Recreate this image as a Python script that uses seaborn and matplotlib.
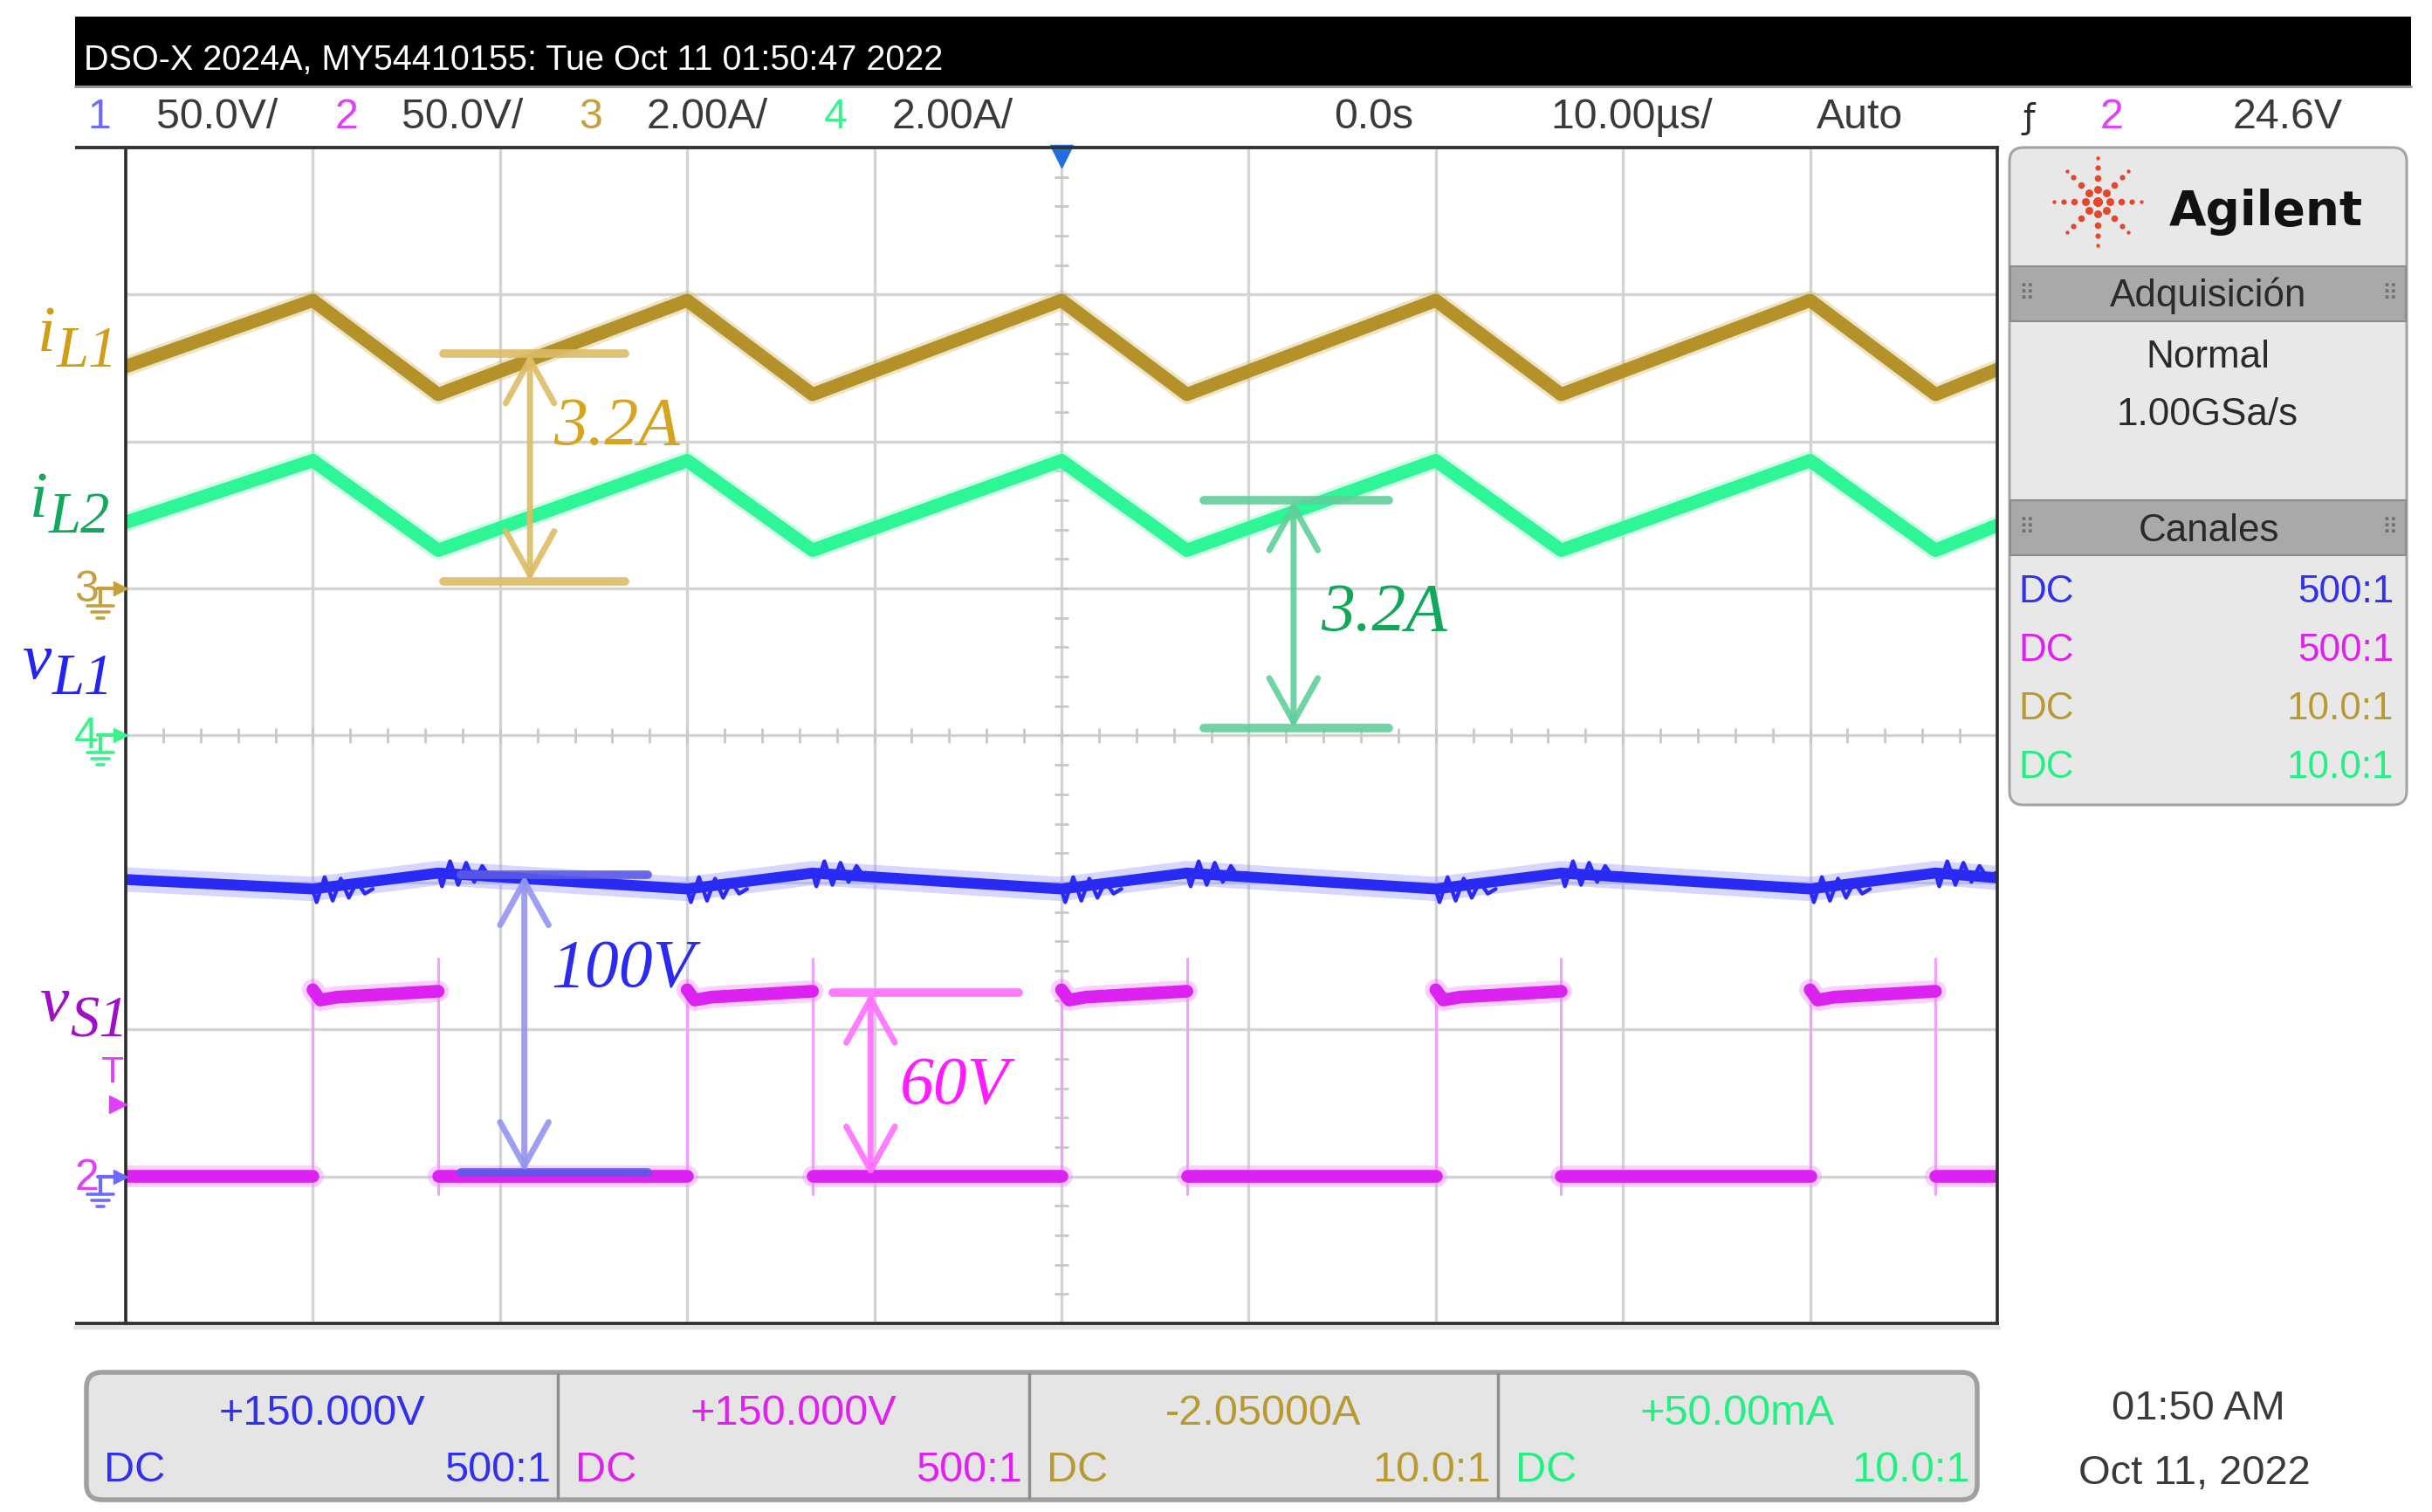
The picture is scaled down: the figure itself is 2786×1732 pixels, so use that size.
import matplotlib
matplotlib.use("Agg")            # file output only
import matplotlib.pyplot as plt
from matplotlib import font_manager
from matplotlib.patches import FancyBboxPatch, Rectangle
import numpy as np
import pandas as pd
import seaborn as sns

W, H, DPI = 2786, 1732, 100

# ---------------- scope settings (as shown on screen) ----------------
ch_names = ["vL1", "vS1", "iL1", "iL2"]
ch_label = ["1", "2", "3", "4"]
ch_setting = ["50.0V/", "50.0V/", "2.00A/", "2.00A/"]
ch_scale = [50.0, 50.0, 2.0, 2.0]            # units per division
ch_ground = [-3.0, -3.0, 1.0, 0.0]           # ground marker, divisions from centre
ch_offset = ["+150.000V", "+150.000V", "-2.05000A", "+50.00mA"]
ch_probe = ["500:1", "500:1", "10.0:1", "10.0:1"]
trig_level = 24.6                            # V on channel 2
time_per_div = 10.0                          # us/div
header_text = "DSO-X 2024A, MY54410155: Tue Oct 11 01:50:47 2022"

# ---------------- waveforms ----------------
t_rise = [-40.0, -20.0, 0.0, 20.0, 40.0]     # vS1 goes high / currents peak (us)
t_fall = [-33.3, -13.3, 6.7, 26.7, 46.7]     # vS1 goes low / currents valley (us)

wave_t = [-50.0, -40.0, -33.3, -20.0, -13.3, 0.0, 6.7, 20.0, 26.7, 40.0, 46.7, 50.0]
iL1_A = [3.02, 3.92, 2.64, 3.92, 2.64, 3.92, 2.64, 3.92, 2.64, 3.92, 2.64, 2.98]
iL2_A = [2.90, 3.74, 2.52, 3.74, 2.52, 3.74, 2.52, 3.74, 2.52, 3.74, 2.52, 2.86]
vL1_V = [101.0, 97.8, 103.2, 97.8, 103.2, 97.8, 103.2, 97.8, 103.2, 97.8, 103.2, 101.6]

# ringing on vL1 after every switching edge
ring_dt = [0.0, 0.2, 0.63, 1.06, 1.49, 1.92, 2.35, 2.78, 3.2]
ring_dV = [0.0, -4.5, 4.0, -4.0, 3.5, -3.0, 2.4, -1.6, 0.0]

vS1_low_V = 0.3
vS1_top_dt = [0.0, 0.4, 1.3]                 # us after the rising edge
vS1_top_V = [63.5, 60.0, 61.0]
vS1_top_end_V = 63.0
vS1_rise_edge_V = [0.0, 67.0]
vS1_fall_edge_V = [74.0, -6.0]

# measurement marks drawn on the screenshot
meas_ch = ["iL1", "iL2", "vL1", "vS1"]
meas_text = ["3.2A", "3.2A", "100V", "60V"]
meas_lo = [0.1, 0.1, 1.5, 0.0]
meas_hi = [3.2, 3.2, 102.5, 62.5]
meas_t = [-28.4, 12.4, -28.7, -10.2]
meas_bar_t0 = [-33.0, 7.6, -32.1, -12.2]
meas_bar_t1 = [-23.3, 17.5, -22.1, -2.3]

# ---------------- colours ----------------
trace_col = {"vL1": "#2a2af5", "vS1": "#dc22f0", "iL1": "#b5912a", "iL2": "#2ef595"}
halo_col = {"vL1": "#8a8aff", "vS1": "#f08cff", "iL1": "#d6bd72", "iL2": "#8ef8c4"}
num_col = {"vL1": "#6b6bff", "vS1": "#e040f8", "iL1": "#c4a040", "iL2": "#3cf08c"}
panel_col = {"vL1": "#3030ee", "vS1": "#e020f0", "iL1": "#b89a30", "iL2": "#22f082"}
label_col = {"vL1": "#2424f0", "vS1": "#9d10c4", "iL1": "#cf9d16", "iL2": "#13a85c"}
meas_bar_col = {"vL1": "#5a5ae6", "vS1": "#ff6cff", "iL1": "#dcbc66", "iL2": "#5fcf9a"}
meas_arrow_col = {"vL1": "#9494f2", "vS1": "#ff70ff", "iL1": "#dcbc66", "iL2": "#5fcf9a"}
meas_text_col = {"vL1": "#2b2bef", "vS1": "#ff1cff", "iL1": "#d6a41e", "iL2": "#12a85a"}

sns.set_theme(style="white")
plt.rcParams["font.family"] = ["DejaVu Sans"]


def have(name):
    try:
        font_manager.findfont(font_manager.FontProperties(family=name), fallback_to_default=False)
        return True
    except ValueError:
        return False


NARROW = next(f for f in ["Liberation Sans Narrow", "Arial Narrow", "Liberation Sans", "DejaVu Sans"] if have(f))
SANS = "Liberation Sans" if have("Liberation Sans") else "DejaVu Sans"
SERIF = "Liberation Serif" if have("Liberation Serif") else "DejaVu Serif"


def to_div(name, values):
    k = ch_names.index(name)
    return np.asarray(values, dtype=float) / ch_scale[k] + ch_ground[k]


# ---------------- build the traces ----------------
def ramp_frame(name, values):
    return pd.DataFrame({"t": wave_t, "div": to_div(name, values), "seg": 0})


# ringing bursts drawn as thin spiky lines over the thick vL1 trace
ring_rows = []
for n, e in enumerate(sorted(t_rise + t_fall)):
    base = vL1_V[wave_t.index(e)]
    for dt, dv in zip(ring_dt, ring_dV):
        if e + dt < 50:
            ring_rows.append((e + dt, base + dv, n))
ring_df = pd.DataFrame(ring_rows, columns=["t", "v", "seg"])
ring_df["div"] = to_div("vL1", ring_df["v"])

rows, edge_rows = [], []
low_starts = [-50.0] + t_fall
low_ends = t_rise + [50.0]
for s, (a, b) in enumerate(zip(low_starts, low_ends)):
    rows += [(a, vS1_low_V, s), (b, vS1_low_V, s)]
for i, (tr, tf) in enumerate(zip(t_rise, t_fall)):
    s = 100 + i
    for dt, v in zip(vS1_top_dt, vS1_top_V):
        rows.append((tr + dt, v, s))
    rows.append((tf, vS1_top_end_V, s))
    edge_rows += [(tr, vS1_rise_edge_V[0], 2 * i), (tr, vS1_rise_edge_V[1], 2 * i),
                  (tf, vS1_fall_edge_V[0], 2 * i + 1), (tf, vS1_fall_edge_V[1], 2 * i + 1)]
vS1_df = pd.DataFrame(rows, columns=["t", "v", "seg"])
vS1_df["div"] = to_div("vS1", vS1_df["v"])
vS1_edge = pd.DataFrame(edge_rows, columns=["t", "v", "seg"])
vS1_edge["div"] = to_div("vS1", vS1_edge["v"])

# ---------------- figure ----------------
X0, X1, Y0, Y1 = 144, 2288, 169, 1516         # screen area in pixels
fig = plt.figure(figsize=(W / DPI, H / DPI), dpi=DPI)
fig.patch.set_facecolor("white")
ax = fig.add_axes([X0 / W, 1 - Y1 / H, (X1 - X0) / W, (Y1 - Y0) / H])
ov = fig.add_axes([0, 0, 1, 1], zorder=3)
ov.set_xlim(0, W); ov.set_ylim(H, 0); ov.axis("off")
ov.patch.set_visible(False)
renderer = fig.canvas.get_renderer()

ax.set_facecolor("white")
ax.set_xlim(-50, 50); ax.set_ylim(-4, 4)
ax.set_xticks(np.arange(-50, 51, time_per_div)); ax.set_yticks(np.arange(-4, 5, 1))
ax.tick_params(length=0, labelbottom=False, labelleft=False)
ax.grid(True, color="#d4d4d4", lw=2.4)
ax.set_axisbelow(True)
for side in ["top", "bottom"]:
    ax.spines[side].set_visible(False)
for side in ["left", "right"]:
    ax.spines[side].set_color("#2c2c2c"); ax.spines[side].set_linewidth(2.6)
# minor ticks on the centre cross
ax.vlines(np.arange(-50, 51, 2), -0.05, 0.05, color="#c8c8c8", lw=2, zorder=1)
ax.hlines(np.arange(-4, 4.01, 0.2), -0.35, 0.35, color="#c8c8c8", lw=2, zorder=1)

for name, vals in [("iL1", iL1_A), ("iL2", iL2_A)]:
    df = ramp_frame(name, vals)
    sns.lineplot(data=df, x="t", y="div", color=halo_col[name], linewidth=16, alpha=0.4, sort=False,
                 estimator=None, ax=ax, legend=False)
    sns.lineplot(data=df, x="t", y="div", color=trace_col[name], linewidth=11, sort=False,
                 estimator=None, ax=ax, legend=False)

vL1_df = ramp_frame("vL1", vL1_V)
sns.lineplot(data=vL1_df, x="t", y="div", color=halo_col["vL1"], linewidth=20, alpha=0.35, sort=False,
             estimator=None, ax=ax, legend=False)
sns.lineplot(data=vL1_df, x="t", y="div", color=trace_col["vL1"], linewidth=9, sort=False,
             estimator=None, ax=ax, legend=False)
sns.lineplot(data=ring_df, x="t", y="div", units="seg", color=trace_col["vL1"], linewidth=3.2, sort=False,
             estimator=None, ax=ax, legend=False)

sns.lineplot(data=vS1_edge, x="t", y="div", units="seg", color="#f2a0ff", linewidth=2.2, sort=False,
             estimator=None, ax=ax, legend=False)
sns.lineplot(data=vS1_df, x="t", y="div", units="seg", color=halo_col["vS1"], linewidth=18, alpha=0.4,
             sort=False, estimator=None, ax=ax, legend=False)
sns.lineplot(data=vS1_df, x="t", y="div", units="seg", color=trace_col["vS1"], linewidth=10.5, sort=False,
             estimator=None, ax=ax, legend=False)
ax.set_xlabel(""); ax.set_ylabel("")

# trigger position marker
ax.plot([0], [3.94], marker="v", ms=19, color="#1f6fe0", clip_on=False, zorder=8)

# measurement bars and arrows
for ch, lo, hi, tm, b0, b1 in zip(meas_ch, meas_lo, meas_hi, meas_t, meas_bar_t0, meas_bar_t1):
    lo_d, hi_d = to_div(ch, [lo, hi])
    bars = (lo_d, hi_d) if lo > 0 else (hi_d,)
    for yy in bars:
        ax.plot([b0, b1], [yy, yy], color=meas_bar_col[ch], lw=7, alpha=0.9,
                solid_capstyle="round", zorder=6)
    ax.annotate("", xy=(tm, lo_d), xytext=(tm, hi_d), zorder=6,
                arrowprops=dict(arrowstyle="<->,head_length=0.9,head_width=0.5", color=meas_arrow_col[ch],
                                lw=5, shrinkA=0, shrinkB=0, mutation_scale=40, alpha=0.9))


def fit(s, width, **kw):
    t = ov.text(0, 0, s, fontsize=50, **kw)
    w = t.get_window_extent(renderer).width
    t.remove()
    return 50 * width / w


def ypx(div):
    return ov.transData.inverted().transform(ax.transData.transform((0, div)))[1]


# measurement labels
meas_text_px = [(634, 509), (1513, 722), (631, 1131), (1031, 1265)]
for ch, s, (x, y) in zip(meas_ch, meas_text, meas_text_px):
    ov.text(x, y, s, color=meas_text_col[ch], fontsize=56, family=SERIF, style="italic", va="baseline")

# trace names on the left
trace_names = [("iL1", "i", "L1", 43, 402), ("iL2", "i", "L2", 34, 592),
               ("vL1", "v", "L1", 26, 777), ("vS1", "v", "S1", 46, 1169)]
for ch, main, sub, x, y in trace_names:
    t = ov.text(x, y, main, color=label_col[ch], fontsize=54, family=SERIF, style="italic", va="baseline")
    bb = t.get_window_extent(renderer)
    ov.text(x + bb.width + 1, y + 18, sub, color=label_col[ch], fontsize=48, family=SERIF,
            style="italic", va="baseline")

# screen frame lines
for yy in (Y0, Y1):
    ov.plot([86, X1 + 2], [yy, yy], color="#333333", lw=2.8, solid_capstyle="butt")
ov.plot([86, X1 + 2], [Y1 + 5, Y1 + 5], color="#e2e2e2", lw=3)

# ground / trigger markers left of the screen
mark_fs = 36


def ground_marker(ch, show_num=True):
    y = ypx(ch_ground[ch_names.index(ch)])
    c = num_col[ch]
    if show_num:
        ov.text(99, y + 2, ch_label[ch_names.index(ch)], color=c, ha="center", va="center",
                fontsize=mark_fs, family=NARROW)
    ov.plot([112, 136], [y, y], color=c, lw=3)
    ov.plot([138], [y], marker=">", ms=12, color=c)
    ov.plot([115, 115], [y, y + 18], color=c, lw=3)
    for k, hw in enumerate([15, 10, 4]):
        ov.plot([115 - hw, 115 + hw], [y + 20 + 7 * k] * 2, color=c, lw=2.6)


ground_marker("iL1")
ground_marker("iL2")
ov.text(99, ypx(-3.0) + 2, "2", color=num_col["vS1"], ha="center", va="center", fontsize=mark_fs, family=NARROW)
ground_marker("vL1", show_num=False)
y_trig = ypx(trig_level / ch_scale[1] + ch_ground[1])
ov.text(129, y_trig - 36, "T", color=num_col["vS1"], ha="center", va="center", fontsize=mark_fs * 0.85, family=NARROW)
ov.plot([135], [y_trig], marker=">", ms=15, color=num_col["vS1"])

# ---------------- header ----------------
ov.add_patch(Rectangle((86, 19), 2676, 79, fc="black", ec="none"))
ov.plot([86, 2762], [99, 99], color="#8c8c8c", lw=2)
ov.text(96, 80, header_text, color="white", fontsize=fit(header_text, 986, family=NARROW),
        family=NARROW, va="baseline")

row_fs = fit("50.0V/", 140, family=NARROW)
num_x = [114, 397, 677, 957]
set_x = [179, 460, 741, 1022]
for k, ch in enumerate(ch_names):
    ov.text(num_x[k], 147, ch_label[k], color=num_col[ch], ha="center", va="baseline", fontsize=row_fs, family=NARROW)
    ov.text(set_x[k], 147, ch_setting[k], color="#3a3a3a", va="baseline", fontsize=row_fs, family=NARROW)
ov.text(1528, 147, "0.0s", color="#3a3a3a", va="baseline", fontsize=row_fs, family=NARROW)
ov.text(1776, 147, f"{time_per_div:.2f}µs/", color="#3a3a3a", va="baseline", fontsize=row_fs, family=NARROW)
ov.text(2081, 147, "Auto", color="#3a3a3a", va="baseline", fontsize=row_fs, family=NARROW)
ov.text(2324, 147, "ƒ", color="#2a2a2a", ha="center", va="baseline", fontsize=row_fs * 0.8, family="DejaVu Sans")
ov.text(2419, 147, "2", color=num_col["vS1"], ha="center", va="baseline", fontsize=row_fs, family=NARROW)
ov.text(2558, 147, f"{trig_level:.1f}V", color="#3a3a3a", va="baseline", fontsize=row_fs, family=NARROW)

# ---------------- right side panel ----------------
ov.add_patch(FancyBboxPatch((2302, 169), 455, 753, boxstyle="round,pad=0,rounding_size=16",
                            fc="#e8e8e8", ec="#a4a4a4", lw=2.2))
for top in (305, 573):
    ov.add_patch(Rectangle((2303, top), 453, 63, fc="#a9a9a9", ec="#8c8c8c", lw=1.5))
    for gx in (2322, 2737):
        ov.text(gx, top + 32, "⠿", color="#707070", ha="center", va="center", fontsize=18, family="DejaVu Sans")

# Agilent spark logo
lx, ly = 2403, 231
for ang in np.arange(0, 360, 45):
    for r, sz in zip([0, 14, 27, 39, 50], [55, 42, 30, 20, 10]):
        ov.scatter(lx + r * np.cos(np.radians(ang)), ly - r * np.sin(np.radians(ang)),
                   s=sz, color="#e8452a", lw=0, zorder=4)
ov.text(2485, 258, "Agilent", color="#111111", fontweight="bold", va="baseline", family="DejaVu Sans",
        fontsize=fit("Agilent", 222, family="DejaVu Sans", fontweight="bold"))
pan_fs = fit("Adquisición", 225, family=SANS)
ov.text(2530, 351, "Adquisición", color="#2a2a2a", ha="center", va="baseline", fontsize=pan_fs, family=SANS)
ov.text(2529, 421, "Normal", color="#2a2a2a", ha="center", va="baseline", fontsize=pan_fs, family=SANS)
ov.text(2529, 487, "1.00GSa/s", color="#2a2a2a", ha="center", va="baseline", fontsize=pan_fs, family=SANS)
ov.text(2530, 620, "Canales", color="#2a2a2a", ha="center", va="baseline", fontsize=pan_fs, family=SANS)
for ch, probe, y in zip(ch_names, ch_probe, [690, 757, 824, 891]):
    ov.text(2312, y, "DC", color=panel_col[ch], va="baseline", fontsize=pan_fs, family=SANS)
    ov.text(2742, y, probe, color=panel_col[ch], ha="right", va="baseline", fontsize=pan_fs, family=SANS)

# ---------------- bottom channel bar ----------------
ov.add_patch(FancyBboxPatch((99, 1572), 2166, 146, boxstyle="round,pad=0,rounding_size=18",
                            fc="#e5e5e5", ec="#a0a0a0", lw=4))
cell_edges = [99, 639, 1179, 1716, 2265]
for xd in cell_edges[1:-1]:
    ov.plot([xd, xd], [1574, 1716], color="#8e8e8e", lw=2.5)
bar_fs = fit("+150.000V", 237, family=NARROW)
for k, ch in enumerate(ch_names):
    a, b = cell_edges[k], cell_edges[k + 1]
    ov.text((a + b) / 2, 1632, ch_offset[k], color=panel_col[ch], ha="center", va="baseline",
            fontsize=bar_fs, family=NARROW)
    ov.text(a + 20, 1697, "DC", color=panel_col[ch], va="baseline", fontsize=bar_fs, family=NARROW)
    ov.text(b - 8, 1697, ch_probe[k], color=panel_col[ch], ha="right", va="baseline", fontsize=bar_fs, family=NARROW)

clock_fs = fit("Oct 11, 2022", 266, family=NARROW)
ov.text(2518, 1626, "01:50 AM", color="#3a3a3a", ha="center", va="baseline", fontsize=clock_fs, family=NARROW)
ov.text(2514, 1700, "Oct 11, 2022", color="#3a3a3a", ha="center", va="baseline", fontsize=clock_fs, family=NARROW)

fig.savefig("out.png", dpi=DPI, facecolor="white")
plt.close(fig)
